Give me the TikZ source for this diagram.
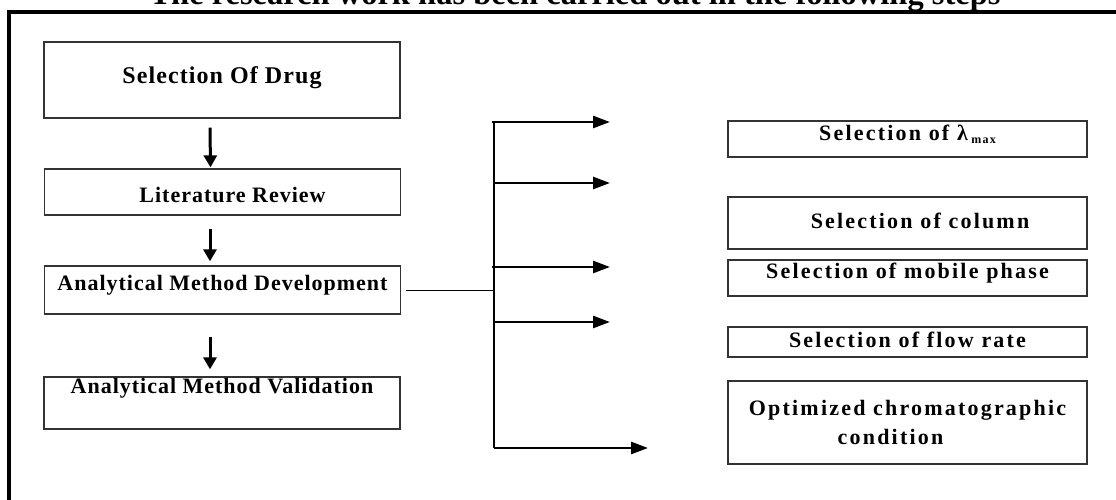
\documentclass[tikz,border=0pt]{standalone}
\usepackage{fontspec}
\setmainfont{Liberation Serif}
\newfontfamily\spcL[LetterSpace=4.5]{Liberation Serif}
\newfontfamily\spcR[LetterSpace=10]{Liberation Serif}
\usetikzlibrary{arrows.meta}
\begin{document}
\begin{tikzpicture}[x=1pt,y=-1pt,
  stepbox/.style={draw=black!80, line width=1.3pt, inner xsep=0pt, inner ysep=0pt, anchor=base},
  leftbox/.style={stepbox, minimum width=356pt, font=\spcL\bfseries\fontsize{22}{26}\selectfont},
  rightbox/.style={stepbox, minimum width=359pt, font=\spcR\bfseries\fontsize{22}{26}\selectfont},
  darr/.style={line width=3pt, -{Triangle[length=12pt,width=13pt]}},
  rarr/.style={line width=2.7pt, -{Triangle[length=17pt,width=12pt]}},
  trunkline/.style={line width=2.5pt},
  thinline/.style={line width=1pt}
]
\useasboundingbox (0,0) rectangle (1116,500);
\clip (0,0) rectangle (1116,500);
% frame
\draw[line width=3.5pt, line join=miter] (9,520) -- (9,12) -- (1130,12);
% title
\node[font=\bfseries\fontsize{32.5}{36}\selectfont, anchor=base, inner sep=0pt] (title) at (575,5)
  {The research work has been carried out in the following steps};
% left column
\node[leftbox, font=\spcL\bfseries\fontsize{24}{28}\selectfont, text height=42pt, text depth=34pt] (b1) at (222,84) {Selection Of Drug};
\node[leftbox, text height=33pt, text depth=13pt] (b2) at (222.5,202) {\hspace*{20pt}Literature Review};
\node[leftbox, text height=24pt, text depth=24pt] (b3) at (222.5,290) {Analytical Method Development};
\node[leftbox, text height=16pt, text depth=36pt] (b4) at (222,393) {Analytical Method Validation};
% right column
\node[rightbox, text height=20pt, text depth=16pt] (rA) at (907.5,141) {Selection of λ\,\raisebox{-2pt}{\fontsize{12}{12}\selectfont max}};
\node[rightbox, text height=31pt, text depth=21pt] (rB) at (907.5,228) {\hspace*{25pt}Selection of column};
\node[rightbox, text height=18pt, text depth=18pt] (rC) at (907.5,278) {Selection of mobile phase};
\node[rightbox, text height=20pt, text depth=10pt] (rD) at (907.5,347) {Selection of flow rate};
\node[rightbox, anchor=center, minimum height=83pt, align=center, font=\spcR\bfseries\fontsize{22}{29}\selectfont] (rE) at (907.5,422.5) {Optimized chromatographic\\condition\hspace*{34pt}};
% vertical arrows
\draw[darr] ([xshift=-12pt,yshift=-9pt]b1.south) -- ([xshift=-12pt,yshift=1pt]b2.north);
\draw[darr] ([xshift=-12.5pt,yshift=-13pt]b2.south) -- ([xshift=-12.5pt,yshift=4pt]b3.north);
\draw[darr] ([xshift=-12.5pt,yshift=-22pt]b3.south) -- ([xshift=-12pt,yshift=7pt]b4.north);
% branch
\coordinate (tm) at (494,290);
\coordinate (tt) at (494,122);
\coordinate (tb) at (494,448);
\draw[thinline] ([xshift=5pt]b3.east) -- (tm);
\draw[trunkline] (tt) -- (tb);
\coordinate (s1) at (492,122); \coordinate (e1) at (610,122);
\coordinate (s2) at (494,183); \coordinate (e2) at (610,183);
\coordinate (s3) at (492,267); \coordinate (e3) at (610,267);
\coordinate (s4) at (494,322); \coordinate (e4) at (610,322);
\coordinate (s5) at (494,448); \coordinate (e5) at (648,448);
\draw[rarr] (s1) -- (e1);
\draw[rarr] (s2) -- (e2);
\draw[rarr] (s3) -- (e3);
\draw[rarr] (s4) -- (e4);
\draw[rarr] (s5) -- (e5);
\end{tikzpicture}
\end{document}
